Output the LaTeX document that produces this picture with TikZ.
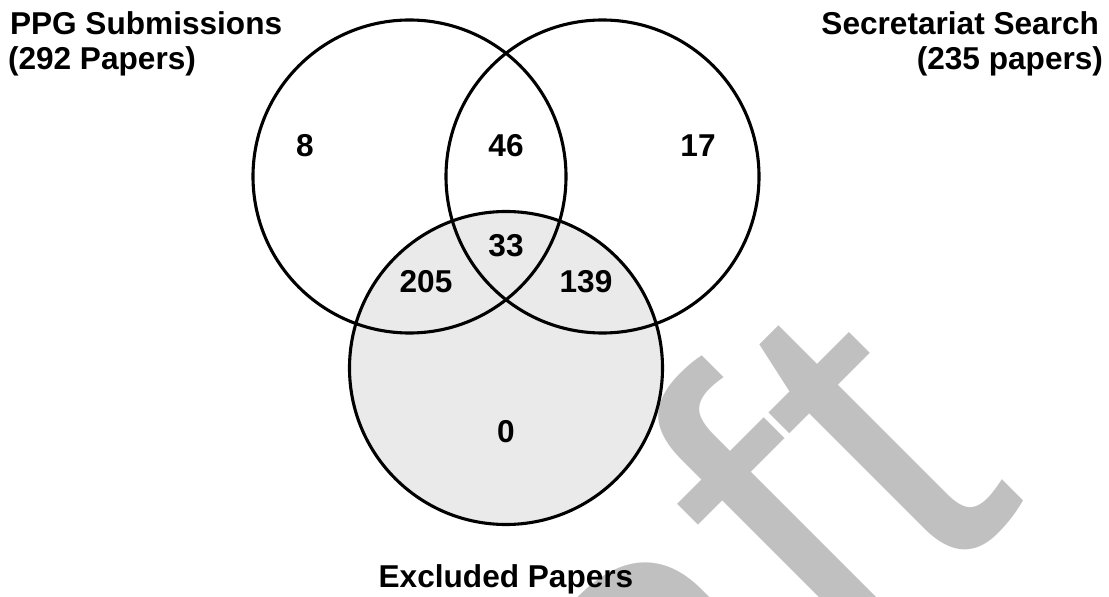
\documentclass[tikz,border=0pt]{standalone}
\usepackage{fontspec}
\setmainfont{Liberation Sans}
\newfontfamily\wmfont[Ligatures=CommonOff]{Liberation Sans}
\definecolor{venngray}{HTML}{EAEAEA}
\definecolor{wmgray}{HTML}{C0C0C0}
\tikzset{
  ring/.style={draw=black, line width=3.1bp},
  lbl/.style={inner sep=0pt, outer sep=0pt, font=\fontsize{31.6bp}{35bp}\selectfont\bfseries},
  wmark/.style={inner sep=0pt, outer sep=0pt, text=wmgray, font=\fontsize{462bp}{462bp}\selectfont\wmfont}
}
\begin{document}
\begin{tikzpicture}[x=1bp,y=-1bp]
\useasboundingbox (0,0) rectangle (1109,597);
\clip (0,0) rectangle (1109,597);
% watermark
\node[wmark, rotate=45, anchor=base east] (wm) at (1027,500) {Draft};
% circles
\coordinate (cA) at (409.5,176.5);
\coordinate (cB) at (602.5,176.5);
\coordinate (cC) at (506,368);
\fill[venngray] (cC) circle[radius=156.5bp];
\draw[ring] (cA) circle[radius=156.5bp];
\draw[ring] (cB) circle[radius=156.5bp];
\draw[ring] (cC) circle[radius=156.5bp];
% set labels
\node[lbl, anchor=base west] (ppg1) at (10,35) {PPG Submissions};
\node[lbl, anchor=base west] (ppg2) at (8,70) {(292 Papers)};
\node[lbl, anchor=base east] (sec1) at (1099,35) {Secretariat Search};
\node[lbl, anchor=base east] (sec2) at (1103,70) {(235 papers)};
\node[lbl, anchor=base] (excl) at (506,587) {Excluded Papers};
% region counts
\node[lbl, anchor=base] (n8) at (305,156.5) {8};
\node[lbl, anchor=base] (n46) at (506,156.5) {46};
\node[lbl, anchor=base] (n17) at (698,156.5) {17};
\node[lbl, anchor=base] (n33) at (506,257) {33};
\node[lbl, anchor=base] (n205) at (426,293) {205};
\node[lbl, anchor=base] (n139) at (586,293) {139};
\node[lbl, anchor=base] (n0) at (506,442) {0};
\end{tikzpicture}
\end{document}
